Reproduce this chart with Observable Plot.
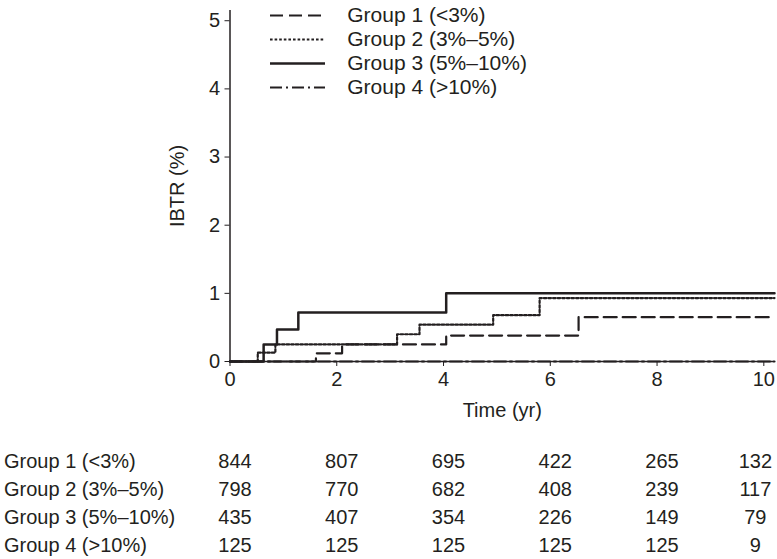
<!DOCTYPE html>
<html><head><meta charset="utf-8">
<script src="https://cdn.jsdelivr.net/npm/d3@7"></script>
<script src="https://cdn.jsdelivr.net/npm/@observablehq/plot@0.6"></script>
<style>
body{margin:0;background:#fff;font-family:"Liberation Sans",Arial,sans-serif;}
#wrap{position:relative;width:777px;height:559px;overflow:hidden;}
#legend{position:absolute;left:270px;top:0;}
svg{display:block}
</style></head><body><div id="wrap"><div id="chart"></div><div id="table"></div><div id="legend"></div></div>
<script>
// ---- data ----
const groups = ["Group 1 (<3%)", "Group 2 (3%–5%)", "Group 3 (5%–10%)", "Group 4 (>10%)"];
const g1Time = [0, 1.61, 2.1, 4.05, 6.53, 10.2];
const g1Val  = [0, 0.12, 0.25, 0.38, 0.65, 0.65];
const g2Time = [0, 0.52, 0.85, 3.13, 3.55, 4.93, 5.8, 10.2];
const g2Val  = [0, 0.13, 0.25, 0.40, 0.54, 0.68, 0.93, 0.93];
const g3Time = [0, 0.63, 0.88, 1.28, 4.05, 10.2];
const g3Val  = [0, 0.25, 0.47, 0.72, 1.0, 1.0];
const g4Time = [0, 10.2];
const g4Val  = [0, 0];
const tickYears = [0, 2, 4, 6, 8, 10];
const yTicks = [0, 1, 2, 3, 4, 5];
const atRisk1 = [844, 807, 695, 422, 265, 132];
const atRisk2 = [798, 770, 682, 408, 239, 117];
const atRisk3 = [435, 407, 354, 226, 149, 79];
const atRisk4 = [125, 125, 125, 125, 125, 9];

// ---- styling ----
const ink = "#231f20";
const font = "'Liberation Sans', Arial, sans-serif";
const dashes = ["13,6", "2.6,2", undefined, "12,4,2,4"];
const widths = [2.2, 2.2, 2.5, 2.2];

const times = [g1Time, g2Time, g3Time, g4Time];
const vals = [g1Val, g2Val, g3Val, g4Val];
const risks = [atRisk1, atRisk2, atRisk3, atRisk4];
const rows = groups.flatMap((g, i) => times[i].map((t, j) => ({group: g, time: t, ibtr: vals[i][j]})));
const riskRows = groups.flatMap((g, i) => tickYears.map((t, j) => ({group: g, time: t, n: risks[i][j]})));
const xDomain = [0, 10.2];
const style = {fontFamily: font, fontSize: "20px", color: ink, background: "white", overflow: "visible"};

const chart = Plot.plot({
  width: 777, height: 430,
  marginLeft: 229.5, marginRight: 3, marginTop: 10, marginBottom: 69,
  style,
  x: {domain: xDomain},
  y: {domain: [0, 5.15]},
  marks: [
    Plot.axisX({ticks: tickYears, tickFormat: d3.format("d"), tickSize: 5, tickPadding: 5, fontSize: 20, label: "Time (yr)", labelAnchor: "center", labelArrow: "none", labelOffset: 55}),
    Plot.axisY({ticks: yTicks, tickFormat: d3.format("d"), tickSize: 5, tickPadding: 5, fontSize: 20, label: "IBTR (%)", labelAnchor: "center", labelArrow: "none", labelOffset: 60}),
    Plot.ruleX([0], {stroke: ink, strokeWidth: 1.5}),
    Plot.ruleY([0], {stroke: ink, strokeWidth: 1.5}),
    ...groups.map((g, i) => Plot.line(rows.filter(r => r.group === g), {
      x: "time", y: "ibtr", curve: "step-after", stroke: ink,
      strokeWidth: widths[i], strokeDasharray: dashes[i]
    }))
  ]
});
document.getElementById("chart").append(chart);

const table = Plot.plot({
  width: 777, height: 129,
  marginLeft: 229.5, marginRight: 3, marginTop: 30, marginBottom: 13.5,
  style,
  x: {domain: xDomain, axis: null},
  y: {type: "point", domain: groups, padding: 0, axis: null},
  marks: [
    Plot.text(groups, {y: d => d, text: d => d, frameAnchor: "left", textAnchor: "start", dx: -226, fill: ink}),
    Plot.text(riskRows.filter(r => r.time < 10), {x: "time", y: "group", text: "n", dx: 5, fill: ink}),
    Plot.text(riskRows.filter(r => r.time === 10), {x: "time", y: "group", text: "n", dx: -8.5, fill: ink})
  ]
});
document.getElementById("table").append(table);

const legend = Plot.plot({
  width: 300, height: 110,
  marginLeft: 0, marginRight: 245, marginTop: 14, marginBottom: 21.7,
  style: {...style, fontSize: "21px"},
  x: {domain: [0, 1], axis: null},
  y: {type: "point", domain: groups, padding: 0, axis: null},
  marks: [
    ...groups.map((g, i) => Plot.ruleY([g], {y: d => d, stroke: ink, strokeWidth: widths[i], strokeDasharray: dashes[i]})),
    Plot.text(groups, {y: d => d, text: d => d, frameAnchor: "right", textAnchor: "start", dx: 21.7, fill: ink})
  ]
});
document.getElementById("legend").append(legend);
</script>
</body></html>
